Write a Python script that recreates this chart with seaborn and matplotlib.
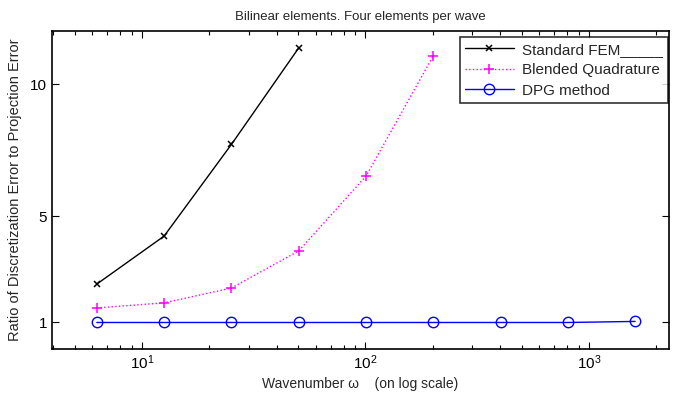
import numpy as np
import pandas as pd
import matplotlib
matplotlib.use("Agg")
import matplotlib.pyplot as plt
import seaborn as sns
from matplotlib.ticker import LogLocator, NullFormatter, FixedLocator

omega = [6.283, 12.566, 25.133, 50.265, 100.53, 201.06, 402.12, 804.25, 1608.5]
fem_vals = [2.45, 4.26, 7.72, 11.36]
blend_vals = [1.55, 1.74, 2.30, 3.70, 6.52, 11.06]
dpg_vals = [1.0, 1.0, 1.0, 1.0, 1.0, 1.0, 1.0, 1.0, 1.04]
labels = ["Standard FEM_____", "Blended Quadrature", "DPG method"]

sns.set_theme(style="white")
plt.rcParams['font.family'] = ['Liberation Sans', 'DejaVu Sans']

df_fem = pd.DataFrame({"w": omega[:len(fem_vals)], "r": fem_vals})
df_bl = pd.DataFrame({"w": omega[:len(blend_vals)], "r": blend_vals})
df_dpg = pd.DataFrame({"w": omega[:len(dpg_vals)], "r": dpg_vals})

fig = plt.figure(figsize=(6.73, 3.95), dpi=100)
ax = fig.add_axes([0.0773, 0.1165, 0.9167, 0.805])

sns.lineplot(data=df_fem, x="w", y="r", ax=ax, color="black", marker="x",
             markersize=5, markeredgewidth=1.1, markeredgecolor="black",
             linewidth=1.0, label=labels[0])
sns.lineplot(data=df_bl, x="w", y="r", ax=ax, color="#ff00ff", marker="+",
             markersize=7.5, markeredgewidth=1.1, markeredgecolor="#ff00ff",
             linewidth=1.0, linestyle=":", label=labels[1])
sns.lineplot(data=df_dpg, x="w", y="r", ax=ax, color="#0000ff", marker="o",
             markersize=7.5, markerfacecolor="none", markeredgecolor="#0000ff",
             markeredgewidth=1.0, linewidth=1.0, label=labels[2])

ax.set_xscale("log")
ax.set_xlim(3.96, 2280)
ax.set_ylim(0, 12)
ax.yaxis.set_major_locator(FixedLocator([1, 5, 10]))
ax.set_yticklabels(["1", "5", "10"])
ax.xaxis.set_major_locator(LogLocator(base=10))
ax.xaxis.set_minor_locator(LogLocator(base=10, subs=np.arange(2, 10)))
ax.xaxis.set_minor_formatter(NullFormatter())

ax.tick_params(axis="both", which="both", direction="in", top=True, right=True,
               bottom=True, left=True, labelsize=11, colors="black")
ax.tick_params(which="major", length=5, width=0.8)
ax.tick_params(which="minor", length=3, width=0.8)
for s in ax.spines.values():
    s.set_color("black")
    s.set_linewidth(1.2)

ax.set_xlabel("Wavenumber \u03c9    (on log scale)", fontsize=10, labelpad=3)
ax.set_ylabel("Ratio of Discretization Error to Projection Error", fontsize=10.5, labelpad=6)
ax.set_title("Bilinear elements. Four elements per wave", fontsize=9.5, pad=8)

leg = ax.legend(loc="upper right", bbox_to_anchor=(0.998, 0.98), fontsize=11,
                frameon=True, fancybox=False, borderpad=0.35, labelspacing=0.42,
                handlelength=3.2, borderaxespad=0.0, handletextpad=0.5)
leg.get_frame().set_edgecolor("black")
leg.get_frame().set_linewidth(1.2)

fig.savefig("out.png", dpi=100)
